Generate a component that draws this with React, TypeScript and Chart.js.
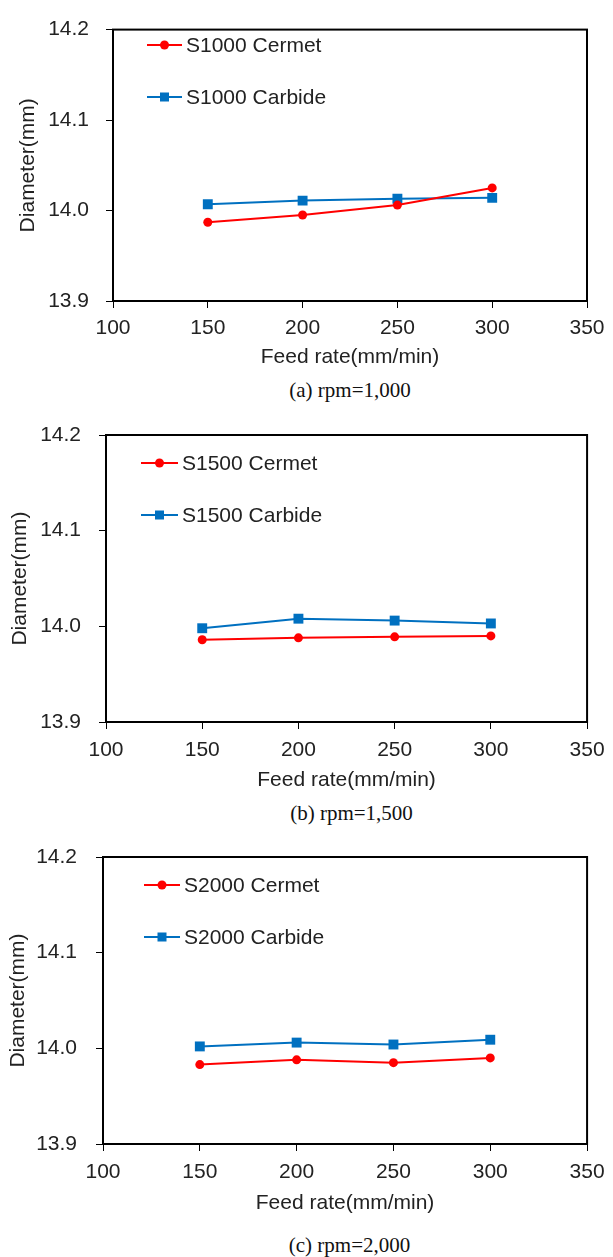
import React, { useEffect, useRef } from 'react';
import { Chart, registerables } from 'chart.js';

Chart.register(...registerables);

// ---------------- data ----------------
const feedRates = [150, 200, 250, 300];
const xMin = 100;
const xMax = 350;
const xStep = 50;
const yMin = 13.9;
const yMax = 14.2;
const yStep = 0.1;

const cermet1000 = [13.987, 13.995, 14.006, 14.025];
const carbide1000 = [14.007, 14.011, 14.013, 14.014];
const cermet1500 = [13.986, 13.988, 13.989, 13.99];
const carbide1500 = [13.998, 14.008, 14.006, 14.003];
const cermet2000 = [13.983, 13.988, 13.985, 13.99];
const carbide2000 = [14.002, 14.006, 14.004, 14.009];

const seriesNames1000 = ['S1000 Cermet', 'S1000 Carbide'];
const seriesNames1500 = ['S1500 Cermet', 'S1500 Carbide'];
const seriesNames2000 = ['S2000 Cermet', 'S2000 Carbide'];

const captions = ['(a) rpm=1,000', '(b) rpm=1,500', '(c) rpm=2,000'];
const xTitle = 'Feed rate(mm/min)';
const yTitle = 'Diameter(mm)';

// ---------------- styles / layout ----------------
const RED = '#FF0000';
const BLUE = '#0070C0';
const TEXT = '#222222';
const FONT = "'Liberation Sans', Arial, sans-serif";
const FS = 21;
const TICK_LEN = 7;
const PAGE_W = 613;

const panels = [
  { cermet: cermet1000, carbide: carbide1000, names: seriesNames1000, caption: captions[0],
    top: 0, height: 372, L: 113, R: 587, T: 18, B: 301, yLabelGap: 24, xLabelY: 328, xTitleY: 357,
    yTitleX: 28, captionY: 390, legX1: 147, legX2: 182, legText: 186, legY: [45, 97] },
  { cermet: cermet1500, carbide: carbide1500, names: seriesNames1500, caption: captions[1],
    top: 400, height: 395, L: 106, R: 597, T: 435, B: 722, yLabelGap: 25, xLabelY: 750, xTitleY: 780,
    yTitleX: 20, captionY: 813, legX1: 141, legX2: 178, legText: 182, legY: [463, 515] },
  { cermet: cermet2000, carbide: carbide2000, names: seriesNames2000, caption: captions[2],
    top: 820, height: 398, L: 103, R: 596, T: 857, B: 1144, yLabelGap: 26, xLabelY: 1172, xTitleY: 1203,
    yTitleX: 18, captionY: 1245, legX1: 144, legX2: 180, legText: 184, legY: [885, 937] },
];

type PanelCfg = typeof panels[number];

function Panel({ cfg }: { cfg: PanelCfg }) {
  const ref = useRef<HTMLCanvasElement | null>(null);

  useEffect(() => {
    if (!ref.current) return;
    const lineH = FS * 1.2;

    const frame = {
      id: 'frame',
      afterDatasetsDraw(chart: any) {
        const { ctx, chartArea: a } = chart;
        ctx.save();
        ctx.strokeStyle = '#000';
        ctx.lineWidth = 2;
        ctx.strokeRect(a.left, a.top, a.right - a.left, a.bottom - a.top);
        ctx.restore();
      },
    };

    const legend = {
      id: 'insideLegend',
      afterDraw(chart: any) {
        const { ctx } = chart;
        ctx.save();
        chart.data.datasets.forEach((ds: any, i: number) => {
          const y = cfg.legY[i] - cfg.top;
          ctx.strokeStyle = ds.borderColor;
          ctx.lineWidth = 2;
          ctx.beginPath();
          ctx.moveTo(cfg.legX1, y);
          ctx.lineTo(cfg.legX2, y);
          ctx.stroke();
          const cx = (cfg.legX1 + cfg.legX2) / 2;
          ctx.fillStyle = ds.backgroundColor;
          if (ds.pointStyle === 'rect') {
            ctx.fillRect(cx - 4.5, y - 4.5, 9, 9);
          } else {
            ctx.beginPath();
            ctx.arc(cx, y, 4.5, 0, Math.PI * 2);
            ctx.fill();
          }
          ctx.fillStyle = TEXT;
          ctx.font = `${FS}px ${FONT}`;
          ctx.textAlign = 'left';
          ctx.textBaseline = 'middle';
          ctx.fillText(ds.label, cfg.legText, y + 1);
        });
        ctx.restore();
      },
    };

    const chart = new Chart(ref.current, {
      type: 'line',
      data: {
        datasets: [
          {
            label: cfg.names[0],
            data: feedRates.map((x, i) => ({ x, y: cfg.cermet[i] })),
            borderColor: RED,
            backgroundColor: RED,
            borderWidth: 2,
            pointStyle: 'circle',
            pointRadius: 4.5,
            pointBorderWidth: 0,
            tension: 0,
          },
          {
            label: cfg.names[1],
            data: feedRates.map((x, i) => ({ x, y: cfg.carbide[i] })),
            borderColor: BLUE,
            backgroundColor: BLUE,
            borderWidth: 2,
            pointStyle: 'rect',
            pointRadius: 7,
            pointBorderWidth: 0,
            tension: 0,
          },
        ],
      },
      options: {
        responsive: false,
        animation: false,
        devicePixelRatio: 1,
        layout: {
          padding: { top: cfg.T - cfg.top, right: PAGE_W - cfg.R, left: 0, bottom: 0 },
        },
        plugins: {
          legend: { display: false },
          tooltip: { enabled: false },
        },
        scales: {
          x: {
            type: 'linear',
            position: 'bottom',
            min: xMin,
            max: xMax,
            afterFit: (s: any) => { s.height = cfg.height - (cfg.B - cfg.top); },
            ticks: {
              stepSize: xStep,
              color: TEXT,
              font: { family: FONT, size: FS },
              padding: cfg.xLabelY - cfg.B - TICK_LEN - lineH / 2,
              maxRotation: 0,
              autoSkip: false,
            },
            grid: { display: true, drawOnChartArea: false, drawTicks: true, tickLength: TICK_LEN, color: '#000', lineWidth: 1 },
            border: { display: false },
            title: {
              display: true,
              text: xTitle,
              color: TEXT,
              font: { family: FONT, size: FS },
              padding: { top: 0, bottom: cfg.top + cfg.height - cfg.xTitleY - lineH / 2 },
            },
          },
          y: {
            type: 'linear',
            position: 'left',
            min: yMin,
            max: yMax,
            afterFit: (s: any) => { s.width = cfg.L; },
            ticks: {
              stepSize: yStep,
              color: TEXT,
              font: { family: FONT, size: FS },
              padding: cfg.yLabelGap - TICK_LEN,
              callback: (v: any) => Number(v).toFixed(1),
            },
            grid: { display: true, drawOnChartArea: false, drawTicks: true, tickLength: TICK_LEN, color: '#000', lineWidth: 1 },
            border: { display: false },
            title: {
              display: true,
              text: yTitle,
              color: TEXT,
              font: { family: FONT, size: FS },
              padding: { top: cfg.yTitleX - lineH / 2, bottom: 0 },
            },
          },
        },
      },
      plugins: [frame, legend],
    } as any);

    return () => chart.destroy();
  }, [cfg]);

  return (
    <>
      <canvas
        ref={ref}
        width={PAGE_W}
        height={cfg.height}
        style={{ position: 'absolute', left: 0, top: cfg.top, width: PAGE_W, height: cfg.height }}
      />
      <div
        style={{
          position: 'absolute',
          left: cfg.L,
          width: cfg.R - cfg.L,
          top: cfg.captionY - 13,
          height: 26,
          lineHeight: '26px',
          textAlign: 'center',
          fontFamily: "'Liberation Serif', 'Times New Roman', serif",
          fontSize: 21,
          color: '#111',
          whiteSpace: 'nowrap',
        }}
      >
        {cfg.caption}
      </div>
    </>
  );
}

export default function App() {
  return (
    <div style={{ position: 'absolute', left: 0, top: 0, width: PAGE_W, height: 1257, background: '#fff' }}>
      {panels.map((p, i) => (
        <Panel key={i} cfg={p} />
      ))}
    </div>
  );
}
